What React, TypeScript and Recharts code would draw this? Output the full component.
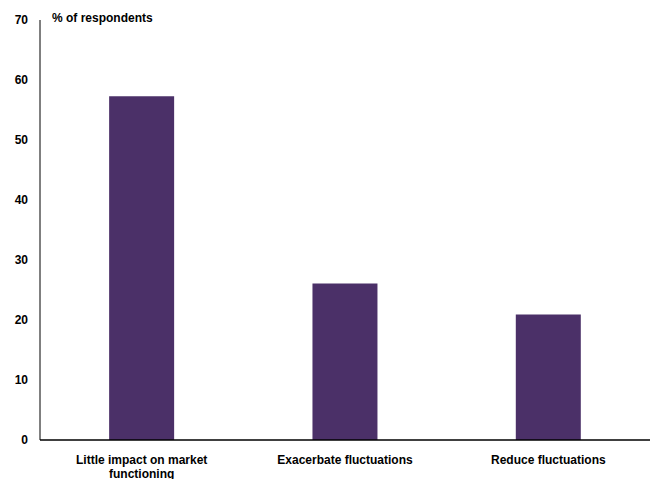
import React from "react";
import { BarChart, Bar, XAxis, YAxis } from "recharts";

const categories = ["Little impact on market functioning", "Exacerbate fluctuations", "Reduce fluctuations"];
const values = [57.3, 26.1, 20.9];
const yTicks = [0, 10, 20, 30, 40, 50, 60, 70];

const data = categories.map((c, i) => ({ name: c, value: values[i] }));

const FF = "'Liberation Sans', Arial, sans-serif";
const font = { fontFamily: FF, fontWeight: 700, fontSize: 12, fill: "#000" };

function wrap(s: string, maxChars: number): string[] {
  const words = s.split(" ");
  const lines: string[] = [];
  let cur = "";
  for (const w of words) {
    const next = cur ? cur + " " + w : w;
    if (next.length > maxChars && cur) {
      lines.push(cur);
      cur = w;
    } else {
      cur = next;
    }
  }
  if (cur) lines.push(cur);
  return lines;
}

function XTick(props: any) {
  const { x, y, payload } = props;
  const lines = wrap(String(payload.value), 26);
  return (
    <text x={x} y={y + 22} textAnchor="middle" style={{ fontFamily: FF, fontWeight: 700, fontSize: 12 }} fill="#000">
      {lines.map((l, i) => (
        <tspan key={i} x={x} dy={i === 0 ? 0 : 14}>{l}</tspan>
      ))}
    </text>
  );
}

export default function App() {
  return (
    <div style={{ position: "absolute", left: 0, top: 0, width: 657, height: 479, background: "#fff" }}>
      <BarChart width={657} height={479} data={data} margin={{ top: 20, right: 7, bottom: 0, left: 0 }} barCategoryGap="34%">
        <XAxis
          dataKey="name"
          height={39}
          tickLine={false}
          tickSize={0}
          interval={0}
          axisLine={{ stroke: "#000", strokeWidth: 1.5 }}
          tick={<XTick />}
        />
        <YAxis
          width={40}
          domain={[0, 70]}
          ticks={yTicks}
          tickLine={false}
          tickSize={6}
          tickMargin={6}
          axisLine={{ stroke: "#000", strokeWidth: 1 }}
          tick={font}
        />
        <Bar dataKey="value" fill="#4B3068" isAnimationActive={false} />
        <text x={52} y={22} style={{ fontFamily: FF, fontWeight: 700, fontSize: 12 }} fill="#000">% of respondents</text>
      </BarChart>
    </div>
  );
}
